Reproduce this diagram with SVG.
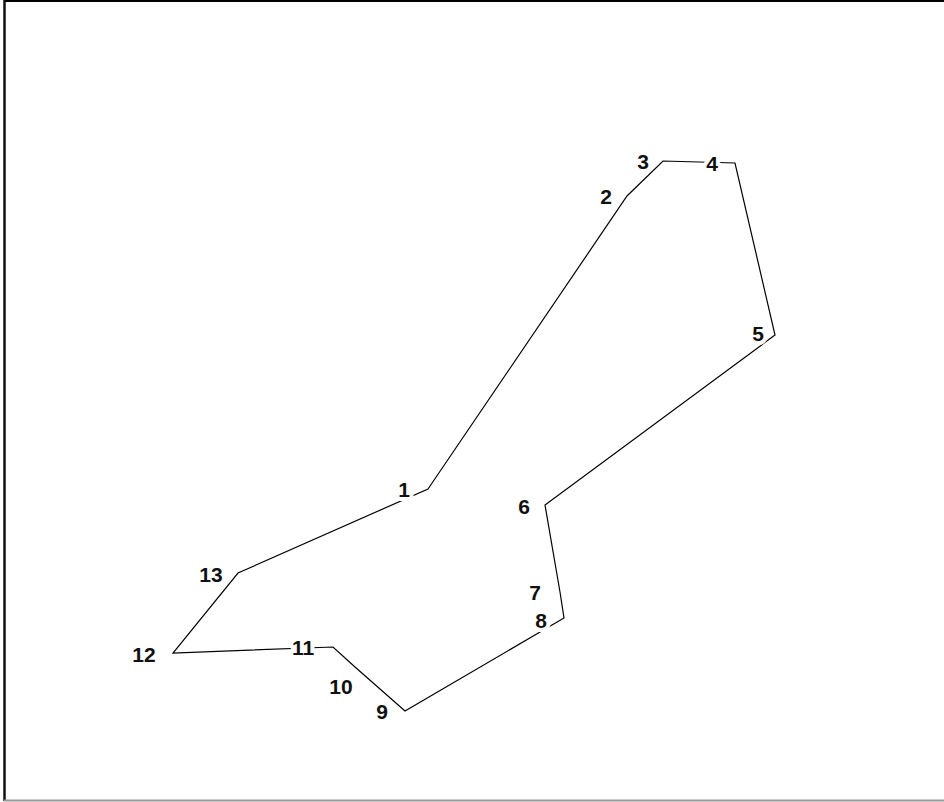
<svg xmlns="http://www.w3.org/2000/svg" width="944" height="802" viewBox="0 0 944 802">
<style>
.lbl{font-family:"Liberation Sans",Arial,sans-serif;font-weight:bold;font-size:21px;fill:#111;text-anchor:middle;stroke:#fff;stroke-width:8px;paint-order:stroke;stroke-linejoin:round}
.edge{fill:none;stroke:#000;stroke-width:1.2}
</style>
<rect width="944" height="802" fill="#fff"/>
<g id="frame">
<line x1="4" y1="1" x2="944" y2="1" stroke="#000" stroke-width="2"/>
<line x1="4.5" y1="0" x2="4.5" y2="801" stroke="#111" stroke-width="2.5"/>
<line x1="4" y1="800.5" x2="944" y2="800.5" stroke="#999" stroke-width="2"/>
</g>
<g id="connectors">
<polygon class="edge" points="428,489 627,196 663,161 735,163 775,335 545,505 560,592 564,618 405,711 355,667 333,647 173,653 238,573"/>
</g>
<g id="labels">
<g id="n1"><text class="lbl" x="404" y="497">1</text></g>
<g id="n2"><text class="lbl" x="606" y="204">2</text></g>
<g id="n3"><text class="lbl" x="643" y="169">3</text></g>
<g id="n4"><text class="lbl" x="712" y="171">4</text></g>
<g id="n5"><text class="lbl" x="758" y="341">5</text></g>
<g id="n6"><text class="lbl" x="524" y="514">6</text></g>
<g id="n7"><text class="lbl" x="535" y="600">7</text></g>
<g id="n8"><text class="lbl" x="541" y="628">8</text></g>
<g id="n9"><text class="lbl" x="382" y="719">9</text></g>
<g id="n10"><text class="lbl" x="341" y="694">10</text></g>
<g id="n11"><text class="lbl" x="303" y="655">11</text></g>
<g id="n12"><text class="lbl" x="144" y="662">12</text></g>
<g id="n13"><text class="lbl" x="211" y="582">13</text></g>
</g>
</svg>
